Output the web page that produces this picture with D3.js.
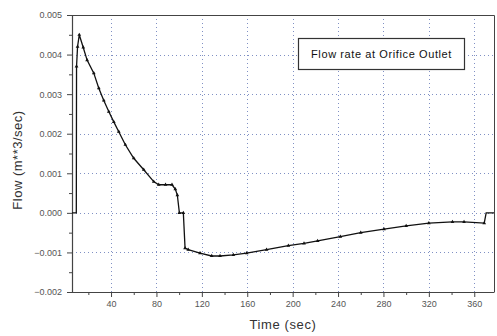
<!DOCTYPE html>
<html><head><meta charset="utf-8">
<script src="https://cdn.jsdelivr.net/npm/d3@7"></script>
<style>body{margin:0;background:#fff}svg{display:block}</style>
</head><body><svg id="c" width="497" height="336"></svg>
<script>
const time = [5.6, 9.4, 9.6, 10.5, 12, 15.5, 18.9, 24.8, 29.2, 33.6, 38, 42.4, 46.8, 52.6, 60, 68.8, 77.6, 82, 88, 93.7, 96.6, 98.4, 100.2, 103.7, 105.2, 108, 118.4, 128.7, 136, 147.7, 159.5, 177, 196.2, 210, 222, 242, 260, 280.5, 300, 320, 340.8, 351, 368.8, 370.5, 377.4];
const flow = [0, 0, 0.0037, 0.0042, 0.0045, 0.00418, 0.00386, 0.00353, 0.00315, 0.00284, 0.00256, 0.0023, 0.00205, 0.00172, 0.00138, 0.00109, 0.00079, 0.00071, 0.00071, 0.00071, 0.0006, 0.00045, 0, 0, -0.00089, -0.00093, -0.00102, -0.00109, -0.00109, -0.00106, -0.00102, -0.00093, -0.00083, -0.00077, -0.00071, -0.0006, -0.0005, -0.00041, -0.00033, -0.00026, -0.00023, -0.00023, -0.00026, 0, 0];
const xTicks = [40, 80, 120, 160, 200, 240, 280, 320, 360];
const yTicks = [-0.002, -0.001, 0, 0.001, 0.002, 0.003, 0.004, 0.005];
const legendLabel = "Flow rate at Orifice Outlet";
const xTitle = "Time (sec)";
const yTitle = "Flow (m**3/sec)";

const svg = d3.select("#c");
const L = 72, R = 494, T = 15, B = 292;
const x = d3.scaleLinear().domain([5.6, 377.4]).range([L, R]);
const y = d3.scaleLinear().domain([-0.002, 0.005]).range([B, T]);

// grid
const grid = svg.append("g").attr("stroke", "#8090c4").attr("stroke-width", 1).attr("stroke-dasharray", "1,3");
xTicks.forEach(t => grid.append("line").attr("x1", Math.round(x(t)) + 0.5).attr("x2", Math.round(x(t)) + 0.5).attr("y1", T).attr("y2", B));
yTicks.filter(v => v > -0.002 && v < 0.005).forEach(v => grid.append("line").attr("x1", L).attr("x2", R).attr("y1", Math.round(y(v)) + 0.5).attr("y2", Math.round(y(v)) + 0.5));

// frame top/right
svg.append("path").attr("d", `M${L},${T + 0.5}H${R + 0.5}V${B}`).attr("fill", "none").attr("stroke", "#444").attr("stroke-width", 1);

// axes
const xMinor = d3.range(20, 377, 20).filter(v => v % 40 !== 0);
const yMinor = d3.range(-0.0015, 0.005, 0.001);
const xAxis = svg.append("g").attr("transform", `translate(0,${B})`)
  .call(d3.axisBottom(x).tickValues(xTicks).tickFormat(d3.format("d")).tickSize(5).tickPadding(4));
svg.append("g").attr("transform", `translate(0,${B})`)
  .call(d3.axisBottom(x).tickValues(xMinor).tickFormat("").tickSize(3))
  .call(g => g.select(".domain").remove());
const yAxis = svg.append("g").attr("transform", `translate(${L},0)`)
  .call(d3.axisLeft(y).tickValues(yTicks).tickFormat(d3.format(".3f")).tickSize(5).tickPadding(5));
svg.append("g").attr("transform", `translate(${L},0)`)
  .call(d3.axisLeft(y).tickValues(yMinor).tickFormat("").tickSize(3))
  .call(g => g.select(".domain").remove());
svg.selectAll(".domain").attr("stroke", "#444").attr("stroke-width", 1.2);
svg.selectAll(".tick line").attr("stroke", "#444");
svg.selectAll(".tick text").attr("font-family", "Arial, 'Liberation Sans', sans-serif").attr("font-size", 9).attr("fill", "#555");
xAxis.select(".domain").attr("d", `M${L},0.5H${R + 0.5}`);
yAxis.select(".domain").attr("d", `M0.5,${B}V${T}`);

// line
const pts = time.map((t, i) => [t, flow[i]]);
svg.append("path").datum(pts)
  .attr("d", d3.line().x(d => x(d[0])).y(d => y(d[1])))
  .attr("fill", "none").attr("stroke", "#111").attr("stroke-width", 1.3);
svg.append("g").selectAll("path").data(pts.slice(2, -2)).join("path")
  .attr("transform", d => `translate(${x(d[0])},${y(d[1])})`)
  .attr("d", d3.symbol(d3.symbolTriangle, 6)())
  .attr("fill", "#111");

// legend
svg.append("rect").attr("x", 298.5).attr("y", 38.5).attr("width", 166).attr("height", 31)
  .attr("fill", "#fff").attr("stroke", "#333").attr("stroke-width", 1.2);
svg.append("text").attr("x", 381.5).attr("y", 58).attr("text-anchor", "middle")
  .attr("font-family", "Arial, 'Liberation Sans', sans-serif").attr("font-size", 11).attr("letter-spacing", 0.6)
  .attr("fill", "#111").text(legendLabel);

// titles
svg.append("text").attr("x", (L + R) / 2).attr("y", 329).attr("text-anchor", "middle")
  .attr("font-family", "Arial, 'Liberation Sans', sans-serif").attr("font-size", 13).attr("letter-spacing", 0.6)
  .attr("fill", "#333").text(xTitle);
svg.append("text").attr("transform", "translate(22,160) rotate(-90)").attr("text-anchor", "middle")
  .attr("font-family", "Arial, 'Liberation Sans', sans-serif").attr("font-size", 13).attr("letter-spacing", 0.5)
  .attr("fill", "#333").text(yTitle);
</script></body></html>
